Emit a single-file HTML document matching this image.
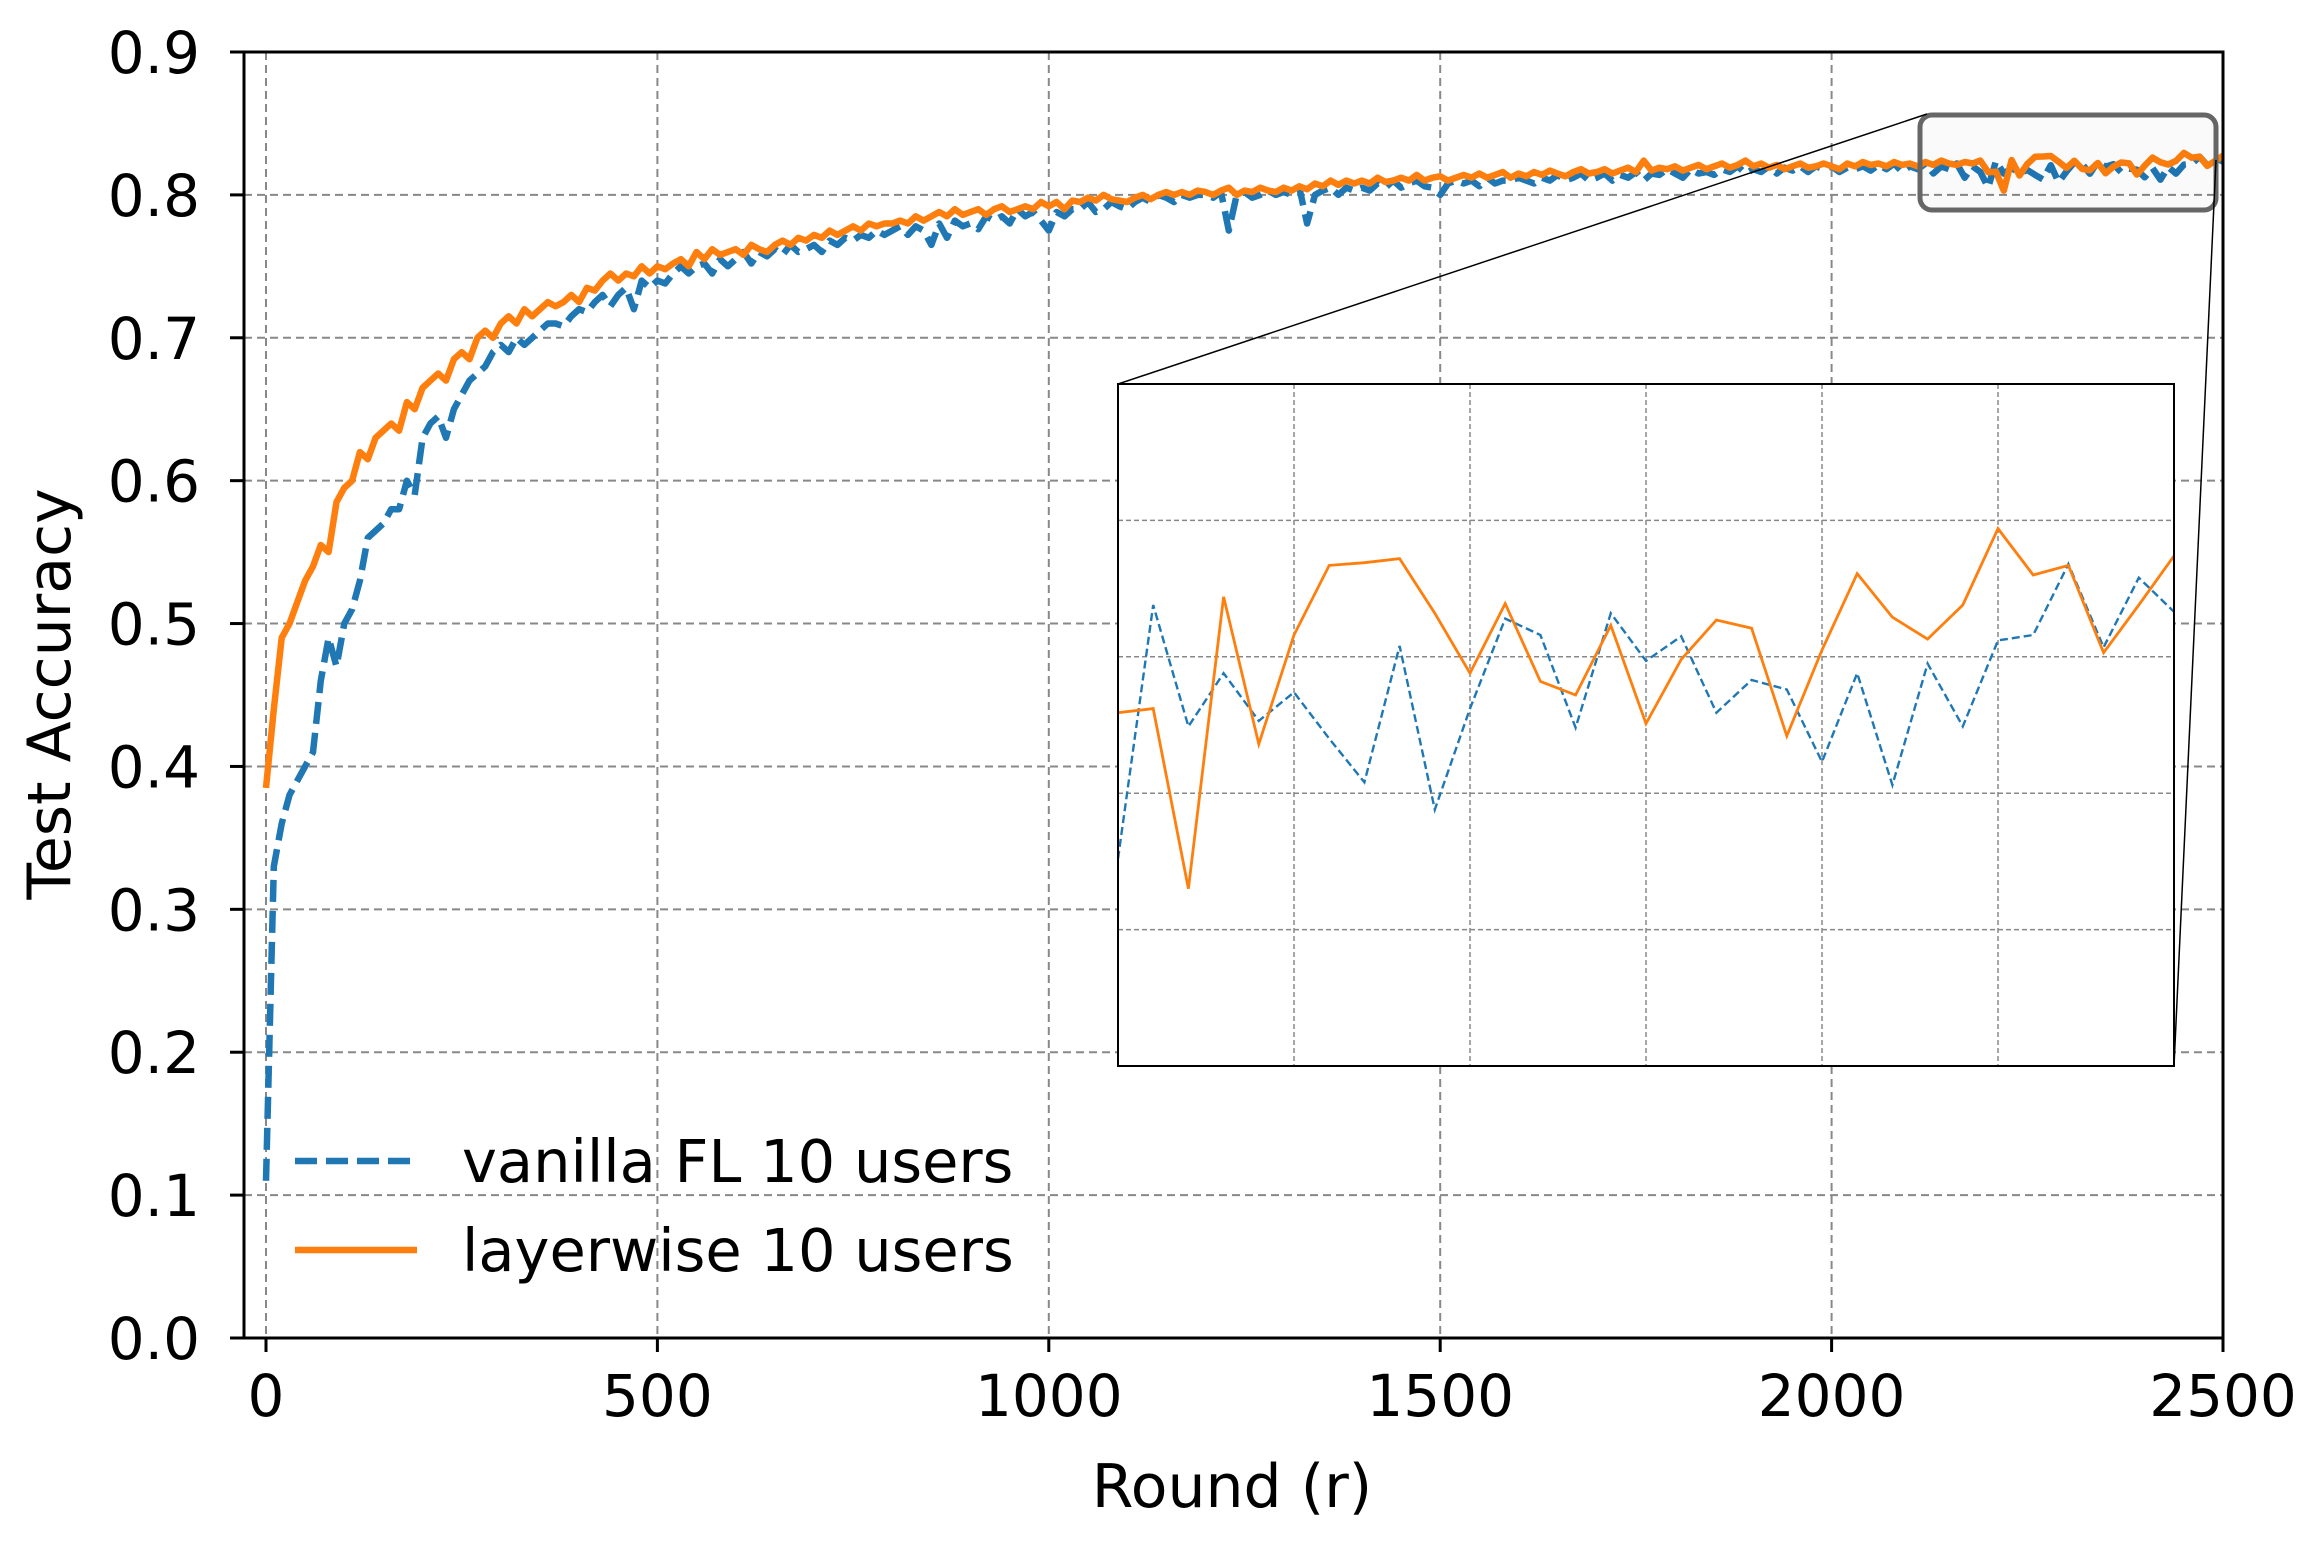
<!DOCTYPE html>
<html><head><meta charset="utf-8">
<style>
html,body{margin:0;padding:0;background:#fff;}
svg{display:block;font-family:"DejaVu Sans","Liberation Sans",sans-serif;}
</style></head>
<body>
<svg id="chart" width="2316" height="1544" viewBox="0 0 2316 1544" xmlns="http://www.w3.org/2000/svg">
<rect width="2316" height="1544" fill="#fff"/>
<g id="grid"></g>
<g id="series"></g>
<g id="axes"></g>
<g id="inset"></g>
<text x="1232" y="1507" font-size="60" text-anchor="middle" fill="#000">Round (r)</text>
<text transform="translate(70,694) rotate(-90)" font-size="60" text-anchor="middle" fill="#000">Test Accuracy</text>
<g>
<line x1="295" y1="1161" x2="417" y2="1161" stroke="#1f77b4" stroke-width="6.5" stroke-dasharray="22,9"/>
<text x="462" y="1182" font-size="59" fill="#000">vanilla FL 10 users</text>
<line x1="295" y1="1250" x2="417" y2="1250" stroke="#ff7f0e" stroke-width="6.5"/>
<text x="462" y="1271" font-size="59" fill="#000">layerwise 10 users</text>
</g>
</svg>
<script>
const STEP = 10;
const xTicks = [0,500,1000,1500,2000,2500];
const yTicks = [0.0,0.1,0.2,0.3,0.4,0.5,0.6,0.7,0.8,0.9];
const insetXTicks = [2250,2300,2350,2400,2450];
const insetYTicks = [0.80,0.81,0.82,0.83];
const vanilla = [
0.11,0.33,0.36,0.38,0.39,0.40,0.41,0.46,0.49,0.47,
0.50,0.51,0.53,0.56,0.565,0.57,0.58,0.58,0.60,0.59,
0.63,0.64,0.645,0.63,0.65,0.66,0.67,0.675,0.68,0.69,
0.695,0.69,0.70,0.695,0.70,0.705,0.71,0.71,0.708,0.715,
0.72,0.718,0.725,0.73,0.722,0.73,0.735,0.72,0.74,0.735,
0.74,0.738,0.745,0.75,0.745,0.75,0.752,0.745,0.755,0.75,
0.755,0.76,0.752,0.76,0.757,0.762,0.758,0.765,0.76,0.762,
0.765,0.76,0.768,0.765,0.77,0.768,0.772,0.77,0.775,0.772,
0.775,0.778,0.772,0.778,0.775,0.765,0.78,0.77,0.782,0.778,
0.78,0.776,0.785,0.782,0.785,0.78,0.79,0.785,0.788,0.782,
0.775,0.788,0.785,0.79,0.79,0.795,0.788,0.79,0.795,0.792,
0.79,0.795,0.798,0.795,0.80,0.798,0.795,0.80,0.798,0.80,
0.80,0.798,0.802,0.775,0.80,0.802,0.798,0.80,0.803,0.80,
0.802,0.80,0.805,0.78,0.80,0.803,0.805,0.80,0.805,0.803,
0.805,0.803,0.808,0.805,0.81,0.805,0.808,0.81,0.806,0.805,
0.80,0.808,0.81,0.808,0.81,0.806,0.812,0.808,0.81,0.81,
0.812,0.81,0.808,0.812,0.81,0.814,0.81,0.812,0.815,0.81,
0.812,0.815,0.81,0.814,0.812,0.816,0.81,0.815,0.814,0.818,
0.815,0.812,0.818,0.815,0.816,0.814,0.818,0.816,0.82,0.815,
0.818,0.816,0.82,0.815,0.819,0.817,0.82,0.816,0.82,0.818,
0.82,0.816,0.819,0.818,0.82,0.817,0.821,0.818,0.822,0.816,
0.82,0.818,0.822,0.815,0.82,0.818,0.822,0.812,0.82,0.816,
0.8052,0.8238,0.8149,0.8188,0.8153,0.8174,0.8140,0.8108,0.8208,0.8088,
0.8162,0.8228,0.8216,0.8148,0.8232,0.8197,0.8215,0.8159,0.8183,0.8176,
0.8123,0.8188,0.8106,0.8195,0.8149,0.8212,0.8216,0.8268,0.8207,0.8258,0.8233];
const layerwise = [
0.385,0.44,0.49,0.50,0.515,0.53,0.54,0.555,0.55,0.585,
0.595,0.60,0.62,0.615,0.63,0.635,0.64,0.635,0.655,0.65,
0.665,0.67,0.675,0.67,0.685,0.69,0.685,0.70,0.705,0.70,
0.71,0.715,0.71,0.72,0.715,0.72,0.725,0.722,0.725,0.73,
0.725,0.735,0.733,0.74,0.745,0.74,0.745,0.743,0.75,0.745,
0.75,0.748,0.752,0.755,0.75,0.76,0.755,0.762,0.758,0.76,
0.762,0.758,0.765,0.762,0.76,0.765,0.768,0.765,0.77,0.768,
0.772,0.77,0.775,0.772,0.775,0.778,0.775,0.78,0.778,0.78,
0.78,0.782,0.78,0.785,0.782,0.785,0.788,0.785,0.79,0.786,
0.788,0.79,0.786,0.79,0.792,0.788,0.79,0.792,0.79,0.795,
0.792,0.795,0.79,0.796,0.795,0.798,0.796,0.80,0.797,0.796,
0.795,0.798,0.80,0.797,0.80,0.802,0.80,0.802,0.80,0.803,
0.802,0.80,0.803,0.805,0.80,0.803,0.802,0.805,0.803,0.802,
0.805,0.803,0.806,0.804,0.808,0.806,0.81,0.807,0.81,0.808,
0.81,0.808,0.812,0.809,0.81,0.812,0.81,0.814,0.81,0.812,
0.813,0.81,0.812,0.814,0.812,0.815,0.812,0.814,0.816,0.812,
0.815,0.813,0.816,0.814,0.817,0.815,0.813,0.816,0.818,0.815,
0.816,0.818,0.815,0.817,0.819,0.816,0.824,0.817,0.819,0.818,
0.82,0.817,0.819,0.821,0.818,0.82,0.822,0.819,0.821,0.824,
0.82,0.822,0.819,0.821,0.818,0.82,0.822,0.819,0.82,0.822,
0.82,0.818,0.822,0.82,0.823,0.821,0.822,0.82,0.823,0.821,
0.822,0.82,0.823,0.821,0.824,0.822,0.821,0.823,0.822,0.824,
0.8159,0.8162,0.8030,0.8244,0.8136,0.8216,0.8267,0.8269,0.8272,0.8232,
0.8188,0.8239,0.8182,0.8172,0.8223,0.8151,0.8198,0.8227,0.8221,0.8142,
0.8205,0.8261,0.8229,0.8213,0.8238,0.8294,0.8260,0.8267,0.8203,0.8238,0.8274];

const NS = "http://www.w3.org/2000/svg";
function mk(tag, attrs, parent){const e=document.createElementNS(NS,tag);for(const k in attrs)e.setAttribute(k,attrs[k]);parent.appendChild(e);return e;}

const L=244,R=2223,T=52,B=1338;
const xS = v => 266 + v*(2223-266)/2500;
const yS = v => B - v*(B-T)/0.9;
const grid=document.getElementById('grid'), axes=document.getElementById('axes'), ser=document.getElementById('series');

xTicks.forEach(t=>{
  const gl=mk('line',{x1:xS(t),x2:xS(t),y1:T,y2:B,stroke:'#888','stroke-width':2,'stroke-dasharray':'8,5'},grid);
  
  
  const tk=mk('line',{x1:xS(t),x2:xS(t),y1:B,y2:B+14,stroke:'#000','stroke-width':3},axes);
  
  
  const tx=mk('text',{x:xS(t),y:B+78,'font-size':58,'text-anchor':'middle',fill:'#000'},axes);
  tx.textContent=t;
  
  
});
yTicks.forEach(t=>{
  const gl=mk('line',{x1:L,x2:R,y1:yS(t),y2:yS(t),stroke:'#888','stroke-width':2,'stroke-dasharray':'8,5'},grid);
  
  
  const tk=mk('line',{x1:L-14,x2:L,y1:yS(t),y2:yS(t),stroke:'#000','stroke-width':3},axes);
  
  
  const tx=mk('text',{x:200,y:yS(t)+21,'font-size':58,'text-anchor':'end',fill:'#000'},axes);
  tx.textContent=t.toFixed(1);
  
  
});
const frame=mk('rect',{x:L,y:T,width:R-L,height:B-T,fill:'none',stroke:'#000','stroke-width':3},axes);



function pathFor(arr, xs, ys, i0){
  let d='';
  for(let i=i0;i<arr.length;i++){d+=(d?'L':'M')+xs(i*STEP).toFixed(1)+','+ys(arr[i]).toFixed(1);}
  return d;
}
const pv=mk('path',{d:pathFor(vanilla,xS,yS,0),fill:'none',stroke:'#1f77b4','stroke-width':6.5,'stroke-dasharray':'22,9','stroke-linejoin':'round'},ser);


const pl=mk('path',{d:pathFor(layerwise,xS,yS,0),fill:'none',stroke:'#ff7f0e','stroke-width':6.5,'stroke-linejoin':'round'},ser);



const inset=document.getElementById('inset');
const IL=1118,IR=2174,IT=384,IB=1066;
const X0=2200,X1=2500,Y0=0.79,Y1=0.84;
const ixS=v=>IL+(v-X0)*(IR-IL)/(X1-X0);
const iyS=v=>IB-(v-Y0)*(IB-IT)/(Y1-Y0);
const zb=mk('rect',{x:1920,y:115,width:296,height:95,rx:12,fill:'rgba(0,0,0,0.02)',stroke:'#666','stroke-width':5},inset);


const c1=mk('line',{x1:1927,y1:114,x2:IL,y2:IT,stroke:'#000','stroke-width':1.5},inset);


const c2=mk('line',{x1:2216,y1:160,x2:IR,y2:IB,stroke:'#000','stroke-width':1.5},inset);


const ibg=mk('rect',{x:IL,y:IT,width:IR-IL,height:IB-IT,fill:'#fff'},inset);


insetXTicks.forEach(t=>{
  const g=mk('line',{x1:ixS(t),x2:ixS(t),y1:IT,y2:IB,stroke:'#888','stroke-width':1.5,'stroke-dasharray':'5,3'},inset);
  
  
});
insetYTicks.forEach(t=>{
  const g=mk('line',{x1:IL,x2:IR,y1:iyS(t),y2:iyS(t),stroke:'#888','stroke-width':1.5,'stroke-dasharray':'5,3'},inset);
  
  
});
const i0=X0/STEP;
const iv=mk('path',{d:pathFor(vanilla,ixS,iyS,i0),fill:'none',stroke:'#1f77b4','stroke-width':2.4,'stroke-dasharray':'8,4'},inset);


const il=mk('path',{d:pathFor(layerwise,ixS,iyS,i0),fill:'none',stroke:'#ff7f0e','stroke-width':2.8},inset);


const ifr=mk('rect',{x:IL,y:IT,width:IR-IL,height:IB-IT,fill:'none',stroke:'#000','stroke-width':2},inset);


</script>
</body></html>
